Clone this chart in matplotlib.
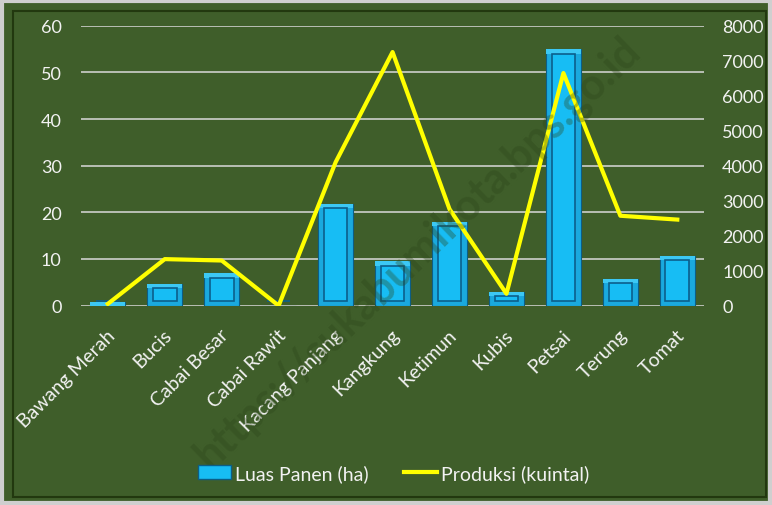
import numpy as np
import matplotlib.pyplot as plt
from matplotlib.patches import Rectangle, Patch
from matplotlib.lines import Line2D
import matplotlib.transforms as mtransforms

# data
categories = ['Bawang Merah', 'Bucis', 'Cabai Besar', 'Cabai Rawit', 'Kacang Panjang',
              'Kangkung', 'Ketimun', 'Kubis', 'Petsai', 'Terung', 'Tomat']
luas_panen = [0.8, 4.7, 6.9, 0.0, 21.9, 9.6, 18.0, 3.0, 55.0, 5.8, 10.7]
produksi = [50, 1330, 1290, 0, 4100, 7250, 2760, 340, 6650, 2570, 2460]
left_ticks = [0, 10, 20, 30, 40, 50, 60]
right_ticks = [0, 1000, 2000, 3000, 4000, 5000, 6000, 7000, 8000]

bg = '#3F5E2A'
txt = '#F2F2F2'
plt.rcParams['font.family'] = ['Lato', 'DejaVu Sans']

fig = plt.figure(figsize=(7.72, 5.06), dpi=100)
fig.patch.set_facecolor(bg)

# outer light border and inner dark frame
fig.patches.append(Rectangle((0.002, 0.004), 0.996, 0.992, transform=fig.transFigure,
                             fill=False, edgecolor='#CFCFCF', linewidth=3))
fig.patches.append(Rectangle((0.017, 0.016), 0.975, 0.96, transform=fig.transFigure,
                             fill=False, edgecolor='#22380F', linewidth=1.5))

# watermark
fig.text(0.54, 0.5, 'https://sukabumikota.bps.go.id', fontsize=31, fontweight='bold',
         color='#2C4619', alpha=0.35, rotation=44, ha='center', va='center', zorder=0)

ax = fig.add_axes([0.105, 0.394, 0.807, 0.553])
ax.patch.set_alpha(0)
x = np.arange(len(categories))
ax.set_xlim(-0.47, 10.47)
ax.set_ylim(0, 60)

# bevelled bars: outer slab + inner panel
w = 0.61
ax.bar(x, luas_panen, width=w, color='#1AA9DE', edgecolor='#0C5E86', linewidth=0.8, zorder=3)
bev_y = 1.0
inner_h = [max(v - 2 * bev_y, 0) for v in luas_panen]
ax.bar(x, inner_h, width=w * 0.68, bottom=bev_y, color='#17BDF4', edgecolor='#0B5F8C',
       linewidth=1.2, zorder=4)
# light top bevel
top_h = [min(bev_y, v) for v in luas_panen]
ax.bar(x, top_h, width=w, bottom=[v - t for v, t in zip(luas_panen, top_h)],
       color='#3CC8F4', edgecolor='none', zorder=3.5)

ax.set_yticks(left_ticks)
ax.grid(axis='y', color='#D9D9D9', linewidth=1.1, zorder=0)
ax.set_axisbelow(True)
for s in ax.spines.values():
    s.set_visible(False)
ax.tick_params(axis='y', length=0, pad=14, labelsize=13, labelcolor=txt)
ax.tick_params(axis='x', length=0, pad=19, labelsize=14, labelcolor=txt)
ax.set_xticks(x)
ax.set_xticklabels(categories, rotation=45, ha='right', va='center', rotation_mode='anchor')
offset = mtransforms.ScaledTranslation(3 / 72, 0, fig.dpi_scale_trans)
for lab in ax.get_xticklabels():
    lab.set_transform(lab.get_transform() + offset)

ax2 = ax.twinx()
ax2.set_ylim(0, 8000)
ax2.set_yticks(right_ticks)
ax2.plot(x, produksi, color='#FFFF00', linewidth=3, zorder=5)
for s in ax2.spines.values():
    s.set_visible(False)
ax2.tick_params(axis='y', length=0, pad=13, labelsize=13, labelcolor=txt)

handles = [Patch(facecolor='#17BDF4', edgecolor='#0C5E86', linewidth=1),
           Line2D([0], [0], color='#FFFF00', linewidth=3)]
fig.legend(handles, ['Luas Panen (ha)', 'Produksi (kuintal)'], loc='center',
           bbox_to_anchor=(0.51, 0.063), ncol=2, frameon=False, fontsize=14,
           labelcolor=txt, handlelength=1.7, handletextpad=0.2, columnspacing=1.8)

fig.savefig('out.png', dpi=100, facecolor=fig.get_facecolor())
